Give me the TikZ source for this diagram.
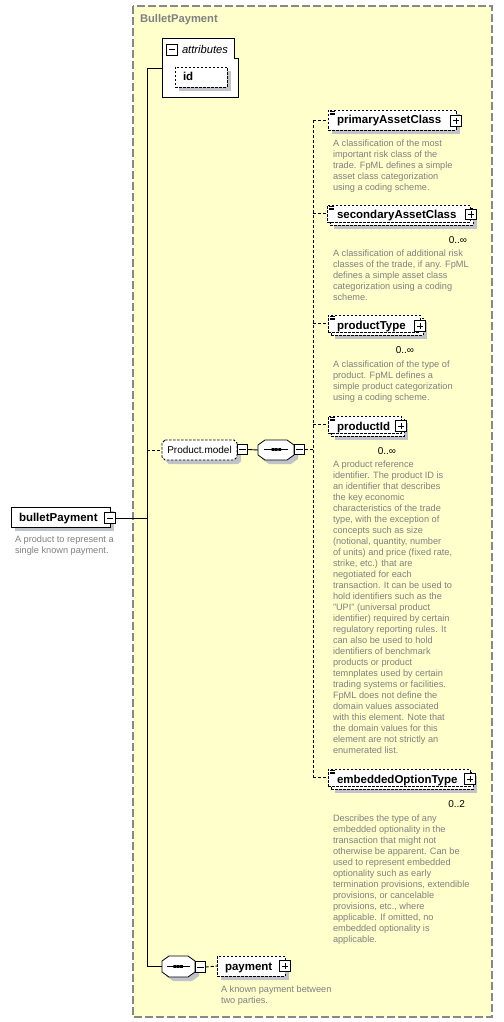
\documentclass[tikz,border=0pt]{standalone}
\usepackage{fontspec}
\setmainfont{Liberation Sans}
\usetikzlibrary{shadows}
\definecolor{grpfill}{RGB}{255,255,204}
\definecolor{grpline}{RGB}{136,136,136}
\definecolor{shadecol}{RGB}{194,194,202}
\definecolor{desccol}{RGB}{128,128,128}
\newcommand{\nmfont}{\fontsize{11.5}{13}\selectfont\bfseries}
\newcommand{\dsfont}{\fontsize{9.2}{11}\selectfont}
% octagon outline: L,T,R,B,cx,cy
\newcommand{\octpath}[6]{(#1+#5,#2) -- (#3-#5,#2) -- (#3,#2+#6) -- (#3,#4-#6) -- (#3-#5,#4) -- (#1+#5,#4) -- (#1,#4-#6) -- (#1,#2+#6) -- cycle}
\tikzset{
  every node/.style={inner sep=0pt, outer sep=0pt},
  shad/.style={drop shadow={shadow xshift=4pt, shadow yshift=-4pt, fill=shadecol, opacity=1, draw=none}},
  solidbox/.style={rectangle, draw=black, fill=white, line width=0.8pt},
  dashbox/.style={solidbox, dash pattern=on 2.5pt off 1.5pt},
  expbox/.style={rectangle, draw=black, fill=white, line width=0.8pt, minimum size=10.5pt},
  minusbox/.style={expbox, path picture={\draw[line width=1pt] ([xshift=2pt]path picture bounding box.west) -- ([xshift=-2pt]path picture bounding box.east);}},
  plusbox/.style={expbox, path picture={\draw[line width=1pt] ([xshift=2pt]path picture bounding box.west) -- ([xshift=-2pt]path picture bounding box.east) ([yshift=-2pt]path picture bounding box.north) -- ([yshift=2pt]path picture bounding box.south);}},
  octshadow/.style={fill=shadecol, draw=none},
  octsolid/.style={draw=black, fill=white, line width=0.8pt},
  octdash/.style={octsolid, dash pattern=on 2.5pt off 1.5pt},
  holder/.style={rectangle, draw=none},
  namelbl/.style={anchor=base west, font=\nmfont},
  desc/.style={anchor=base west, align=left, font=\dsfont, text=desccol},
  occ/.style={anchor=base east, font=\fontsize{10}{12}\selectfont},
  conn/.style={line width=0.9pt},
  dconn/.style={line width=0.9pt, dash pattern=on 3pt off 2pt},
  icon/.style={line width=0.6pt},
  seqline/.style={line width=0.9pt},
  seqdot/.style={fill=black}
}
\begin{document}
\begin{tikzpicture}[x=1pt,y=-1pt]
\useasboundingbox (0,0) rectangle (503,1022);
\fill[white] (0,0) rectangle (503,1022);
% group
\draw[fill=grpfill, draw=grpline, line width=1.5pt, dash pattern=on 8pt off 3pt] (133,6) rectangle (492,1017);
\node[anchor=base west, font=\fontsize{11.2}{13}\selectfont\bfseries, text=desccol] (grplbl) at (140,23) {BulletPayment};

% attributes
\draw[line width=0.8pt, fill=white] (162,38) -- (234,38) -- (234,58) -- (238,58) -- (238,97) -- (162,97) -- cycle;
\node[minusbox] (attr-m) at (172,50) {};
\node[anchor=base west, font=\fontsize{11.2}{13}\selectfont\itshape] (attrlbl) at (182,53.5) {attributes};
\node[dashbox, shad, minimum width=52pt, minimum height=20pt] (id) at (201,77) {};
\node[namelbl] (idlbl) at (183,81) {id};
\coordinate (attr-w) at (162,68);

% root element
\node[solidbox, shad, minimum width=99pt, minimum height=20pt] (bullet) at (60.5,517) {};
\node[namelbl] (bulletlbl) at (19,521.5) {bulletPayment};
\node[minusbox] (bullet-m) at (110,518) {};
\node[desc] (bulletdesc) at (15,553.5) {A product to represent a\\single known payment.};

% spine
\coordinate (spineTop) at (147,68);
\coordinate (spineBot) at (147,966.5);

% Product.model
\fill[octshadow] \octpath{166}{444}{241}{464}{3}{3};
\draw[octdash] \octpath{162}{440}{237}{460}{3}{3};
\node[holder, minimum width=75pt, minimum height=20pt, font=\fontsize{10}{12}\selectfont] (pm) at (199.5,450) {Product.model};
\node[minusbox] (pm-m) at (242.5,449.5) {};

% sequence 1
\fill[octshadow] \octpath{262}{444}{298}{464}{7}{5};
\draw[octsolid] \octpath{258}{440}{294}{460}{7}{5};
\node[holder, minimum width=36pt, minimum height=20pt] (seq1) at (276,450) {};
\draw[seqline] (264,449.5) -- (288,449.5);
\fill[seqdot] (271.5,448.2) rectangle (274.3,450.8) (274.9,448.2) rectangle (277.7,450.8) (278.3,448.2) rectangle (281.1,450.8);
\node[minusbox] (seq1-m) at (299.5,449.5) {};
\coordinate (chTop) at (313,120);

% primaryAssetClass
\node[dashbox, shad, minimum width=128pt, minimum height=20pt] (pac) at (392,120) {};
\draw[icon] (330,111.5) -- (335,111.5) (330,113) -- (335,113) (330,114.5) -- (335,114.5);
\node[namelbl] (paclbl) at (337,124) {primaryAssetClass};
\node[plusbox] (pac-p) at (456,121) {};
\node[desc] (pacdesc) at (333,190.5) {A classification of the most\\important risk class of the\\trade. FpML defines a simple\\asset class categorization\\using a coding scheme.};

% secondaryAssetClass
\node[dashbox, shad, minimum width=143pt, minimum height=17pt] (sac-b) at (401.5,216.5) {};
\node[dashbox, minimum width=143pt, minimum height=17pt] (sac) at (398.5,213.5) {};
\draw[icon] (329,206.5) -- (334,206.5) (329,208) -- (334,208) (329,209.5) -- (334,209.5);
\node[namelbl] (saclbl) at (337,218.5) {secondaryAssetClass};
\node[plusbox] (sac-p) at (471,214.5) {};
\node[occ] (sacocc) at (467,243) {0..∞};
\node[desc] (sacdesc) at (333,300.5) {A classification of additional risk\\classes of the trade, if any. FpML\\defines a simple asset class\\categorization using a coding\\scheme.};

% productType
\node[dashbox, shad, minimum width=92pt, minimum height=17pt] (pt-b) at (377,326.5) {};
\node[dashbox, minimum width=92pt, minimum height=17pt] (pt) at (374,323.5) {};
\draw[icon] (330,316.5) -- (335,316.5) (330,318) -- (335,318) (330,319.5) -- (335,319.5);
\node[namelbl] (ptlbl) at (337,329.5) {productType};
\node[plusbox] (pt-p) at (420,326) {};
\node[occ] (ptocc) at (414,353) {0..∞};
\node[desc] (ptdesc) at (333,400.5) {A classification of the type of\\product. FpML defines a\\simple product categorization\\using a coding scheme.};

% productId
\node[dashbox, shad, minimum width=73pt, minimum height=17pt] (pid-b) at (367.5,427.5) {};
\node[dashbox, minimum width=73pt, minimum height=17pt] (pid) at (364.5,424.5) {};
\draw[icon] (330,417.5) -- (335,417.5) (330,419) -- (335,419) (330,420.5) -- (335,420.5);
\node[namelbl] (pidlbl) at (337,430) {productId};
\node[plusbox] (pid-p) at (401,426) {};
\node[occ] (pidocc) at (396,454) {0..∞};
\node[desc] (piddesc) at (333,753.5) {A product reference\\identifier. The product ID is\\an identifier that describes\\the key economic\\characteristics of the trade\\type, with the exception of\\concepts such as size\\(notional, quantity, number\\of units) and price (fixed rate,\\strike, etc.) that are\\negotiated for each\\transaction. It can be used to\\hold identifiers such as the\\"UPI" (universal product\\identifier) required by certain\\regulatory reporting rules. It\\can also be used to hold\\identifiers of benchmark\\products or product\\temnplates used by certain\\trading systems or facilities.\\FpML does not define the\\domain values associated\\with this element. Note that\\the domain values for this\\element are not strictly an\\enumerated list.};

% embeddedOptionType
\node[dashbox, shad, minimum width=142pt, minimum height=17pt] (eot-b) at (402,780.5) {};
\node[dashbox, minimum width=142pt, minimum height=17pt] (eot) at (399,777.5) {};
\draw[icon] (330,770.5) -- (335,770.5) (330,772) -- (335,772) (330,773.5) -- (335,773.5);
\node[namelbl] (eotlbl) at (337,783) {embeddedOptionType};
\node[plusbox] (eot-p) at (470,779) {};
\node[occ] (eotocc) at (465,807) {0..2};
\node[desc] (eotdesc) at (333,942.5) {Describes the type of any\\embedded optionality in the\\transaction that might not\\otherwise be apparent. Can be\\used to represent embedded\\optionality such as early\\termination provisions, extendible\\provisions, or cancelable\\provisions, etc., where\\applicable. If omitted, no\\embedded optionality is\\applicable.};

% sequence 2 and payment
\fill[octshadow] \octpath{166}{960}{199}{981}{7}{5};
\draw[octsolid] \octpath{162}{956}{195}{977}{7}{5};
\node[holder, minimum width=33pt, minimum height=21pt] (seq2) at (178.5,966.5) {};
\draw[seqline] (167,966.5) -- (190,966.5);
\fill[seqdot] (173.3,965.2) rectangle (176.1,967.8) (176.7,965.2) rectangle (179.5,967.8) (180.1,965.2) rectangle (182.9,967.8);
\node[minusbox] (seq2-m) at (200.5,967) {};
\node[dashbox, shad, minimum width=68pt, minimum height=20pt] (pay) at (251,966) {};
\node[namelbl] (paylbl) at (225,970.5) {payment};
\node[plusbox] (pay-p) at (285,966) {};
\node[desc] (paydesc) at (221,1003.5) {A known payment between\\two parties.};

% connectors
\draw[conn] (spineTop) -- (spineBot);
\draw[conn] (spineTop) -- (attr-w);
\draw[conn] (bullet-m.east) -- (bullet-m.east -| spineTop);
\draw[conn] (spineBot) -- (seq2.west);
\draw[dconn] (pm.west -| spineTop) -- (pm.west);
\draw[conn] (pm-m.east) -- (seq1.west);
\draw[dconn] (seq1-m.east) -- (seq1-m.east -| chTop);
\draw[dconn] (chTop) -- (chTop |- eot.west);
\draw[dconn] (pac.west -| chTop) -- (pac.west);
\draw[dconn] (sac.west -| chTop) -- (sac.west);
\draw[dconn] (pt.west -| chTop) -- (pt.west);
\draw[dconn] (pid.west -| chTop) -- (pid.west);
\draw[dconn] (eot.west -| chTop) -- (eot.west);
\draw[dconn] (seq2-m.east) -- (pay.west);
\end{tikzpicture}
\end{document}
